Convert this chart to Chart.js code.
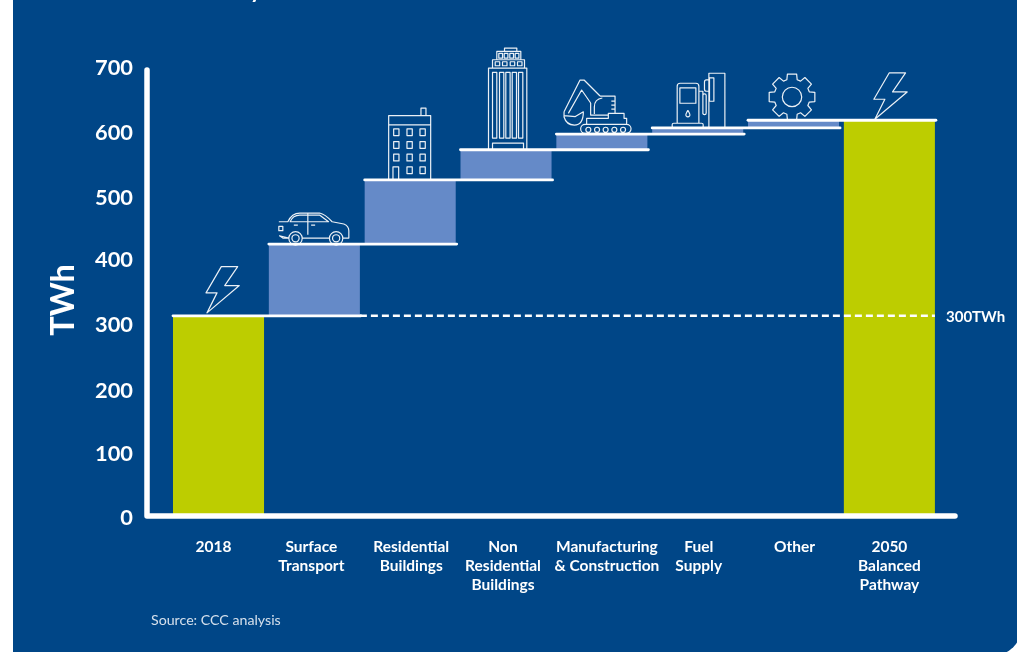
<!DOCTYPE html>
<html>
<head>
<meta charset="utf-8">
<title>Electricity demand to 2050</title>
<script src="https://cdn.jsdelivr.net/npm/chart.js@4/dist/chart.umd.min.js"></script>
<style>
    html, body { margin: 0; padding: 0; background: #fff; overflow: hidden; }
    #panel { position: absolute; left: 13px; top: 0; width: 1009px; height: 656px; background: #004687; border-bottom-right-radius: 30px; }
    #demand-chart { position: absolute; left: 0; top: 0; }
</style>
</head>
<body>
<div id="panel"></div>
<canvas id="demand-chart" width="1017" height="652"></canvas>
<script>
// Chart data
const categories = [
    ['2018'],
    ['Surface', 'Transport'],
    ['Residential', 'Buildings'],
    ['Non', 'Residential', 'Buildings'],
    ['Manufacturing', '& Construction'],
    ['Fuel', 'Supply'],
    ['Other'],
    ['2050', 'Balanced', 'Pathway']
];
const barBase = [0, 312, 424, 524, 571, 595.5, 605, 0];
const barTop = [312, 424, 524, 571, 595.5, 605, 617, 617];
const yTicks = [0, 100, 200, 300, 400, 500, 600, 700];
const labelNudge = [-5, -3, 1, -3, 5, 1, 1, 0];
const yLabelNudge = [2, 2, 3, 1, 1, 3, 2, 1];

const FONT = 'Lato, sans-serif';
const WHITE = '#ffffff';
const LIME = '#bdcd00';
const STEP = '#658ac8';

function iconBolt(p) {
    p.moveTo(0, 0); p.lineTo(10, -20); p.lineTo(-1, -20); p.lineTo(14.3, -46.3);
    p.lineTo(30.7, -46.3); p.lineTo(17.7, -27.3); p.lineTo(32.3, -27.3); p.closePath();
}

function circle(p, x, y, r) {
    p.moveTo(x + r, y);
    p.arc(x, y, r, 0, Math.PI * 2);
}

function iconCar(p) {
    p.moveTo(1, -22.3); p.lineTo(10, -22.3);
    p.quadraticCurveTo(14, -31, 22, -31);
    p.lineTo(41.7, -31); p.quadraticCurveTo(47, -30, 54.3, -22.3);
    p.lineTo(66, -20); p.quadraticCurveTo(71, -18, 71, -13.3); p.lineTo(71, -6); p.lineTo(65, -6);
    p.moveTo(51.7, -6); p.lineTo(24.3, -6);
    p.moveTo(11, -6); p.lineTo(5, -6); p.lineTo(1.7, -8.3); p.closePath();
    p.moveTo(12.3, -22.3); p.quadraticCurveTo(15, -29, 22, -29); p.lineTo(41.7, -29); p.lineTo(50.7, -22.3); p.closePath();
    p.moveTo(30, -31); p.lineTo(30, -9.3);
    p.moveTo(16, -19); p.lineTo(20, -19);
    p.moveTo(33.3, -19); p.lineTo(37.3, -19);
    p.rect(1, -17.7, 4, 4.3);
    circle(p, 17.7, -5.7, 6.7); circle(p, 17.7, -5.7, 3.6);
    circle(p, 58.3, -5.7, 6.7); circle(p, 58.3, -5.7, 3.6);
}

function iconFlats(p) {
    p.rect(0, -64.3, 42, 64.3);
    p.moveTo(0, -55); p.lineTo(42, -55);
    p.rect(32.3, -71.7, 5, 7.4);
    [5, 18.3, 31.3].forEach((x, c) => {
        [-51, -38.3, -25.7, -13].forEach((y, r) => {
            if (c === 0 && r === 3) return;
            p.rect(x, y, 5.3, 6.7);
        });
    });
    p.moveTo(4.3, 0); p.lineTo(4.3, -13); p.lineTo(10, -13); p.lineTo(10, 0);
}

function iconTower(p) {
    p.rect(0, -81.7, 38.3, 81.7);
    [4, 11, 17.3, 23.7, 30].forEach(x => p.rect(x, -77.3, 4.3, 65.6));
    p.rect(4, -6.7, 31, 6.7);
    p.rect(4, -90, 32, 8.3);
    [6.7, 14, 21.7, 29].forEach(x => p.rect(x, -88, 4.5, 4));
    p.rect(8.3, -98.3, 24, 8.3);
    [10.3, 15.7, 21.3, 26.7].forEach(x => p.rect(x, -96.3, 3.7, 4.7));
    p.rect(16, -101.7, 12.3, 3.4);
}

function iconDigger(p) {
    p.roundRect(17.3, -9.7, 50.4, 9, 4.5);
    [25, 33.7, 42.3, 51, 59.7].forEach(x => circle(p, x, -4.3, 2.5));
    p.moveTo(23.3, -9.7); p.lineTo(23.3, -15.7); p.lineTo(45, -15.7); p.lineTo(45, -20.7);
    p.lineTo(60.7, -20.7); p.lineTo(60.7, -15.7); p.lineTo(63.3, -15.7); p.lineTo(63.3, -9.7);
    p.moveTo(36.7, -38); p.lineTo(51.7, -38); p.lineTo(51.7, -20.7);
    p.moveTo(27.3, -31); p.lineTo(27.3, -19); p.lineTo(45, -19);
    p.moveTo(31, -20); p.lineTo(31, -27); p.quadraticCurveTo(31, -35, 39, -36);
    p.moveTo(48, -33); p.lineTo(51.7, -33);
    p.moveTo(48, -29); p.lineTo(51.7, -29);
    p.moveTo(48, -25); p.lineTo(51.7, -25);
    p.moveTo(0.7, -22.3); p.lineTo(16.7, -54); p.lineTo(20.7, -54); p.lineTo(36.7, -38);
    p.moveTo(5, -20.7); p.lineTo(18.3, -44); p.lineTo(27.3, -31);
    p.moveTo(0.7, -22.3); p.lineTo(0.7, -17); p.quadraticCurveTo(3, -9, 11, -9);
    p.quadraticCurveTo(20, -9, 20, -22.3); p.lineTo(12, -17.5); p.lineTo(0.7, -18.5);
}

function iconPump(p) {
    p.roundRect(0, -4.7, 31, 4.7, 1.5);
    p.roundRect(5, -44.7, 21.7, 40, [3, 3, 0, 0]);
    p.rect(7.7, -40, 16, 15.3);
    p.moveTo(15.7, -17.5); p.quadraticCurveTo(18.5, -13, 17.5, -12);
    p.quadraticCurveTo(15.7, -10, 13.9, -12); p.quadraticCurveTo(12.9, -13, 15.7, -17.5);
    p.moveTo(26.7, -36.7); p.lineTo(30.7, -36.7); p.lineTo(30.7, -14);
    p.roundRect(30.7, -34, 3.3, 20.7, 1.6);
    p.rect(36.7, -54.7, 16, 54.7);
    p.rect(37.3, -50, 4.4, 23.3);
    p.roundRect(32.3, -48, 4.4, 11.3, [2, 0, 0, 2]);
}

function iconGear(p) {
    // eight teeth round a ring, centred on the origin
    const cx = 44, cy = -23.3, teeth = 8;
    for (let i = 0; i < teeth; i++) {
        const a = i * Math.PI * 2 / teeth - Math.PI / 2;
        const w = 0.2, g = 0.29, ro = 23.3, ri = 18;
        const pt = (ang, r) => [cx + r * Math.cos(ang), cy + r * Math.sin(ang)];
        const a0 = pt(a - g, ri), a1 = pt(a - w, ro), a2 = pt(a + w, ro), a3 = pt(a + g, ri);
        if (i === 0) p.moveTo(a0[0], a0[1]); else p.lineTo(a0[0], a0[1]);
        p.lineTo(a1[0], a1[1]); p.lineTo(a2[0], a2[1]); p.lineTo(a3[0], a3[1]);
    }
    p.closePath();
    circle(p, cx, cy, 9.7);
}

// Icon per bar: which drawing, shifted from the bar's top-left corner
const barIcons = [
    { draw: iconBolt, dx: 34, dy: -3 },
    { draw: iconCar, dx: 9, dy: 0 },
    { draw: iconFlats, dx: 24, dy: 0 },
    { draw: iconTower, dx: 28, dy: 0 },
    { draw: iconDigger, dx: 7, dy: 0 },
    { draw: iconPump, dx: 20, dy: 0 },
    { draw: iconGear, dx: 0, dy: 0 },
    { draw: iconBolt, dx: 31, dy: -1 }
];

const stepOverlay = {
    id: 'stepOverlay',
    beforeDraw(chart) {
        // the labels do not sit exactly on their slots in the original
        chart.scales.x.getLabelItems(chart.chartArea).forEach((item, i) => {
            item.options.translation[0] += labelNudge[i];
        });
        chart.scales.y.getLabelItems(chart.chartArea).forEach((item, i) => {
            item.options.translation[1] += yLabelNudge[i];
        });
    },
    afterDatasetsDraw(chart) {
        const ctx = chart.ctx;
        const y = chart.scales.y;
        const bars = chart.getDatasetMeta(0).data;
        const left = i => bars[i].x - bars[i].width / 2;
        const right = i => bars[i].x + bars[i].width / 2;
        const y0 = y.getPixelForValue(0);
        const y700 = y.getPixelForValue(700);

        ctx.save();

        // dashed 2018 level
        ctx.strokeStyle = WHITE;
        ctx.lineWidth = 2.5;
        ctx.setLineDash([7, 4]);
        ctx.beginPath();
        ctx.moveTo(right(1), y.getPixelForValue(barTop[0]));
        ctx.lineTo(right(7), y.getPixelForValue(barTop[0]));
        ctx.stroke();
        ctx.setLineDash([]);

        // white tread on each step, running over the next bar
        ctx.lineWidth = 2.8;
        ctx.lineCap = 'round';
        for (let i = 0; i < bars.length - 1; i++) {
            const py = y.getPixelForValue(barTop[i]);
            ctx.beginPath();
            ctx.moveTo(left(i), py);
            ctx.lineTo(right(i + 1) + 1, py);
            ctx.stroke();
        }

        // axis frame
        ctx.lineWidth = 5.5;
        ctx.lineJoin = 'round';
        ctx.beginPath();
        ctx.moveTo(147, y700 + 3);
        ctx.lineTo(147, y0);
        ctx.lineTo(955, y0);
        ctx.stroke();

        // icons standing on the steps
        ctx.lineWidth = 1.2;
        ctx.lineCap = 'butt';
        ctx.strokeStyle = 'rgba(255,255,255,0.92)';
        barIcons.forEach((icon, i) => {
            const p = new Path2D();
            icon.draw(p);
            ctx.save();
            ctx.translate(left(i) + icon.dx, y.getPixelForValue(barTop[i]) + icon.dy);
            ctx.stroke(p);
            ctx.restore();
        });

        // loose texts
        ctx.fillStyle = WHITE;
        ctx.textBaseline = 'middle';
        ctx.textAlign = 'left';
        ctx.font = 'bold 15px ' + FONT;
        ctx.fillText('300TWh', 946, 317);
        ctx.font = '14.2px ' + FONT;
        ctx.fillStyle = '#d5e0ec';
        ctx.fillText('Source: CCC analysis', 151, 620);

        // what is left of the cropped heading above the panel
        ctx.fillStyle = WHITE;
        ctx.textBaseline = 'alphabetic';
        ctx.font = 'bold 22px ' + FONT;
        ctx.fillText('y', 250, -2);

        ctx.save();
        ctx.translate(64, 300);
        ctx.rotate(-Math.PI / 2);
        ctx.textAlign = 'center';
        ctx.textBaseline = 'middle';
        ctx.fillStyle = WHITE;
        ctx.font = 'bold 32.5px ' + FONT;
        ctx.fillText('TWh', 0, 0);
        ctx.restore();

        ctx.restore();
    }
};

new Chart(document.getElementById('demand-chart'), {
    type: 'bar',
    data: {
        labels: categories,
        datasets: [{
            data: barBase.map((b, i) => [b, barTop[i]]),
            backgroundColor: barBase.map(b => b === 0 ? LIME : STEP),
            borderWidth: 0,
            borderSkipped: false,
            categoryPercentage: 1,
            barPercentage: 0.95
        }]
    },
    options: {
        responsive: false,
        animation: false,
        layout: { padding: { top: 67, right: 79.7, bottom: 0, left: 0 } },
        plugins: { legend: { display: false }, tooltip: { enabled: false } },
        scales: {
            x: {
                grid: { display: false, drawTicks: false },
                border: { display: false },
                afterFit: s => { s.height = 136; },
                ticks: {
                    autoSkip: false,
                    maxRotation: 0,
                    minRotation: 0,
                    padding: 22,
                    color: WHITE,
                    font: { family: FONT, size: 15.5, weight: 'bold', lineHeight: 1.2 }
                }
            },
            y: {
                min: 0,
                max: 700,
                afterBuildTicks: s => { s.ticks = yTicks.map(v => ({ value: v })); },
                grid: { display: false, drawTicks: false },
                border: { display: false },
                afterFit: s => { s.width = 170.6; },
                ticks: {
                    padding: 37.6,
                    color: WHITE,
                    font: { family: FONT, size: 21.8, weight: 'bold' }
                }
            }
        }
    },
    plugins: [stepOverlay]
});
</script>
</body>
</html>
